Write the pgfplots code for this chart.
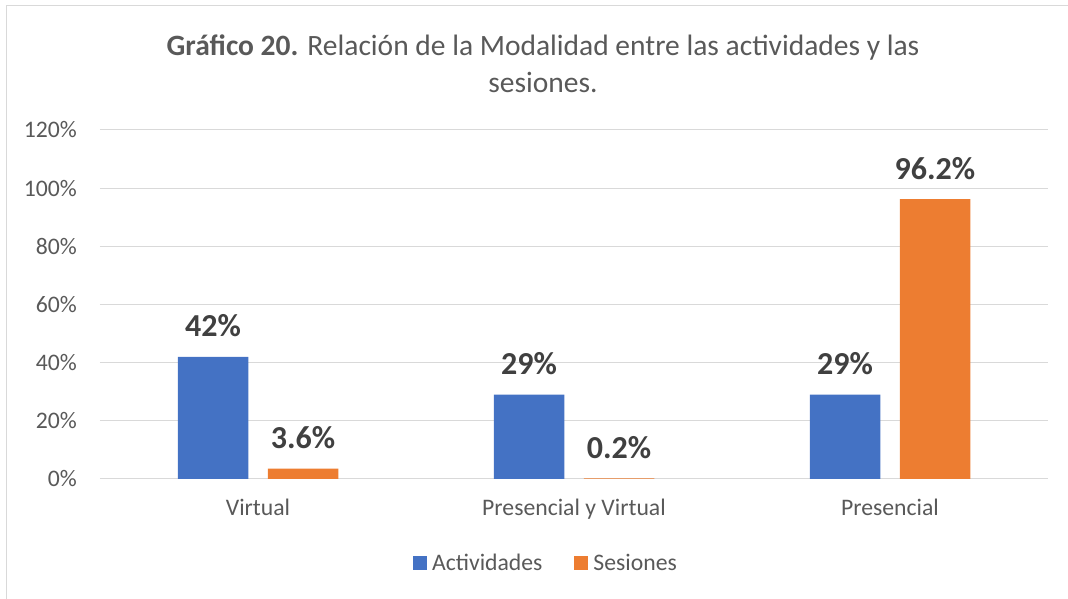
\documentclass[border=0pt]{standalone}
\usepackage{pgfplots}
\pgfplotsset{compat=1.18}
\usepackage{fontspec}
\setmainfont{Carlito}
\definecolor{cblue}{HTML}{4472C4}
\definecolor{corange}{HTML}{ED7D31}
\definecolor{cgrid}{HTML}{D9D9D9}
\definecolor{ctext}{HTML}{595959}
\definecolor{clabel}{HTML}{404040}
\begin{document}
\begin{tikzpicture}
\useasboundingbox (-100pt,-120pt) rectangle (968pt,479pt);
\draw[cgrid, line width=1.3pt] (-93.3pt,-130pt) -- (-93.3pt,473.5pt) -- (980pt,473.5pt);
\begin{axis}[
  at={(0pt,0pt)}, anchor=south west,
  scale only axis, width=948pt, height=349pt,
  xmin=-0.5, xmax=2.5, ymin=0, ymax=120,
  xtick={0,1,2}, xticklabels={Virtual, Presencial y Virtual, Presencial},
  ytick={0,20,40,60,80,100,120},
  yticklabels={0\%,20\%,40\%,60\%,80\%,100\%,120\%},
  /pgf/number format/assume math mode=true,
  axis line style={draw=none},
  major tick length=0pt,
  ymajorgrids, grid style={cgrid, line width=1pt},
  ticklabel style={font=\fontsize{23.7}{28}\selectfont, text=ctext},
  xticklabel style={anchor=base, inner sep=0pt, yshift=-37pt},
  yticklabel style={anchor=east, inner sep=0pt, xshift=-23pt},
  clip=false,
  nodes near coords={\pgfplotspointmeta\%},
  point meta=explicit symbolic,
  every node near coord/.style={font=\bfseries\fontsize{32}{36}\selectfont, text=clabel, anchor=base, inner sep=0pt, yshift=20pt},
  legend columns=2,
  legend style={draw=none, fill=none, at={(0.4694,-0.2407)}, anchor=center,
    font=\fontsize{23.7}{28}\selectfont, text=ctext,
    /tikz/every even column/.append style={column sep=32pt},
    nodes={inner sep=0pt}},
  legend image code/.code={\fill[#1] (0pt,-7pt) rectangle (14pt,7pt);},
]
\addplot[ybar, bar width=70.5pt, bar shift=-45pt, fill=cblue, draw=none,
  every node near coord/.append style={xshift=-45pt}]
  table[meta=l] {
x y l
0 42 42
1 29 29
2 29 29
};
\addlegendentry{\hspace{5pt}Actividades}
\addplot[ybar, bar width=70.5pt, bar shift=45pt, fill=corange, draw=none,
  every node near coord/.append style={xshift=45pt}]
  table[meta=l] {
x y l
0 3.6 3.6
1 0.2 0.2
2 96.2 96.2
};
\addlegendentry{\hspace{5pt}Sesiones}
\end{axis}
\node[align=center, text=ctext, font=\fontsize{29.5}{37}\selectfont, anchor=center] at (443pt,415.5pt)
  {\textbf{Gráfico 20.} Relación de la Modalidad entre las actividades y las\\ sesiones.};
\end{tikzpicture}
\end{document}
